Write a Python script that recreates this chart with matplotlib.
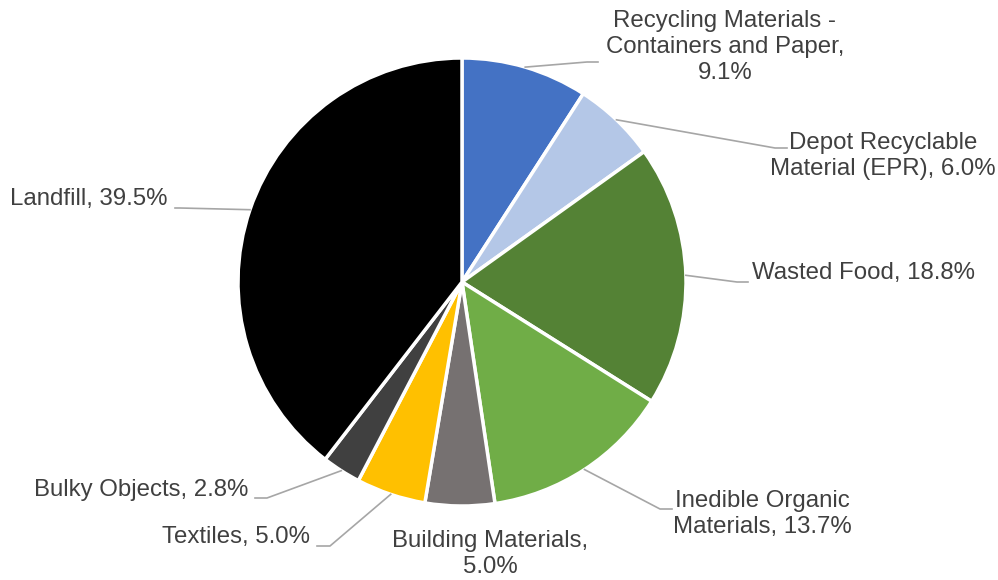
import numpy as np
import matplotlib.pyplot as plt

plt.rcParams['font.family'] = ['Liberation Sans', 'DejaVu Sans']

#slice data, clockwise from 12 o'clock
categories = [
    "Recycling Materials -\nContainers and Paper,\n9.1%",
    "Depot Recyclable\nMaterial (EPR), 6.0%",
    "Wasted Food, 18.8%",
    "Inedible Organic\nMaterials, 13.7%",
    "Building Materials,\n5.0%",
    "Textiles, 5.0%",
    "Bulky Objects, 2.8%",
    "Landfill, 39.5%",
]
shares = [9.1, 6.0, 18.8, 13.7, 5.0, 5.0, 2.8, 39.5]
colors = ["#4472C4", "#B4C7E7", "#548235", "#70AD47",
          "#767171", "#FFC000", "#404040", "#000000"]

#label layout in pixel coords: text x, text y, alignment, leader elbow, leader end
label_x = [725, 883, 752, 762, 490, 310, 248, 168]
label_y = [47, 156, 273, 514, 554, 537, 490, 199]
label_ha = ["center", "center", "left", "center", "center", "right", "right", "right"]
elbows = [(587, 62), (775, 148), (737, 282), (660, 509), None, (330, 546), (267, 498), (180, 208)]
ends = [(598, 62), (787, 148), (748, 282), (672, 509), None, (317, 546), (255, 498), (175, 208)]

cx, cy, radius = 462, 282, 224

fig = plt.figure(figsize=(9.98, 5.8), dpi=100)
ax = fig.add_axes([0, 0, 1, 1])
ax.axis('off')

#y axis is flipped, so counterclock in data space draws clockwise on screen
ax.pie(shares, colors=colors, startangle=-90, counterclock=True,
       center=(cx, cy), radius=radius,
       wedgeprops=dict(edgecolor='white', linewidth=2.5))
ax.set_xlim(0, 998)
ax.set_ylim(580, 0)
ax.set_aspect('auto')

total = sum(shares)
start = 90.0
for i, share in enumerate(shares):
    sweep = share / total * 360
    mid = np.radians(start - sweep / 2)
    start -= sweep
    px = cx + radius * np.cos(mid)
    py = cy - radius * np.sin(mid)

    if elbows[i] is not None:
        xs = [px, elbows[i][0], ends[i][0]]
        ys = [py, elbows[i][1], ends[i][1]]
        ax.plot(xs, ys, color='#A6A6A6', linewidth=1.2, zorder=1)

    ax.text(label_x[i], label_y[i], categories[i], ha=label_ha[i], va='center',
            multialignment='center', fontsize=17.3, color='#404040', linespacing=1.25)

fig.savefig("out.png", dpi=100, facecolor='white')
